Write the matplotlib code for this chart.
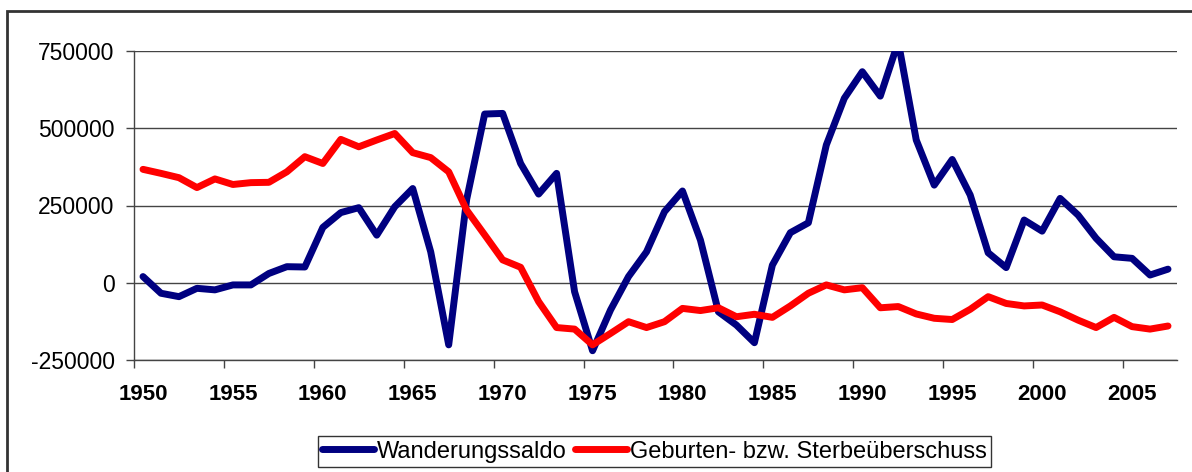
import numpy as np
import matplotlib
matplotlib.use('Agg')
import matplotlib.pyplot as plt
from matplotlib.patches import Rectangle

plt.rcParams['font.family'] = ['Liberation Sans', 'DejaVu Sans']

years = list(range(1950, 2008))

# Wanderungssaldo (net migration)
wanderung = [
    20000, -34000, -45000, -18000, -23000, -7000, -7000, 30000, 52000, 51000,
    179000, 227000, 243000, 154000, 246000, 305000, 100000, -201000, 270000, 546000,
    548000, 386000, 287000, 354000, -29000, -220000, -88000, 20000, 100000, 230000,
    297000, 138000, -94000, -137000, -194000, 57000, 162000, 194000, 446000, 597000,
    683000, 604000, 780000, 462000, 316000, 399000, 284000, 97000, 49000, 203000,
    167000, 273000, 219000, 144000, 84000, 79000, 25000, 44000,
]

# Geburten- bzw. Sterbeueberschuss (natural increase)
geburten = [
    367000, 354000, 340000, 308000, 336000, 318000, 324000, 325000, 359000, 408000,
    386000, 464000, 440000, 462000, 483000, 421000, 405000, 359000, 235000, 155000,
    74000, 50000, -61000, -145000, -150000, -201000, -164000, -126000, -145000, -126000,
    -83000, -90000, -81000, -110000, -102000, -112000, -75000, -34000, -7000, -23000,
    -16000, -81000, -77000, -101000, -115000, -119000, -86000, -45000, -67000, -75000,
    -72000, -94000, -121000, -145000, -112000, -142000, -150000, -140000,
]

series_names = ['Wanderungssaldo', 'Geburten- bzw. Sterbeüberschuss']
yticks = [-250000, 0, 250000, 500000, 750000]

W, H = 1192, 472
fig = plt.figure(figsize=(W / 100, H / 100), dpi=100)
ax = fig.add_axes([134 / W, 1 - 360 / H, (1177 - 134) / W, (360 - 51) / H])

x = np.arange(len(years))
ax.plot(x, wanderung, color='#000080', lw=5, solid_joinstyle='round',
        solid_capstyle='round', label=series_names[0], zorder=3)
ax.plot(x, geburten, color='#ff0000', lw=5, solid_joinstyle='round',
        solid_capstyle='round', label=series_names[1], zorder=3)

ax.set_xlim(-0.5, len(years) - 0.5)
ax.set_ylim(-250000, 750000)
ax.set_yticks(yticks)
ax.set_yticklabels([str(v) for v in yticks], fontsize=16.5)
ax.yaxis.grid(True, color='#444444', lw=1)
ax.set_axisbelow(True)

lab_pos = [i for i, yr in enumerate(years) if yr % 5 == 0]
ax.set_xticks(lab_pos)
ax.set_xticklabels([str(years[i]) for i in lab_pos], fontsize=16, fontweight='bold')
ax.set_xticks([p - 0.5 for p in lab_pos], minor=True)
ax.tick_params(axis='x', which='major', length=0, pad=17)
ax.tick_params(axis='x', which='minor', length=6, width=1, color='#444444', direction='out')
ax.tick_params(axis='y', length=6, width=1, color='#444444', pad=8)

for s in ['top', 'right']:
    ax.spines[s].set_visible(False)
for s in ['left', 'bottom']:
    ax.spines[s].set_color('#444444')
    ax.spines[s].set_linewidth(1)

# outer chart frame
fig.patches.append(Rectangle((7 / W, -0.1), 1.2, 1 - 11 / H + 0.1,
                             transform=fig.transFigure, fill=False,
                             edgecolor='#333333', lw=2))

leg = fig.legend(loc='upper center', bbox_to_anchor=(654.5 / W, 1 - 436 / H),
                 ncol=2, fontsize=17, frameon=True, fancybox=False,
                 handlelength=2.2, handletextpad=0.1, columnspacing=0.38,
                 borderpad=0.2, borderaxespad=0)
leg.get_frame().set_edgecolor('black')
leg.get_frame().set_linewidth(1)

fig.savefig('out.png', dpi=100)
